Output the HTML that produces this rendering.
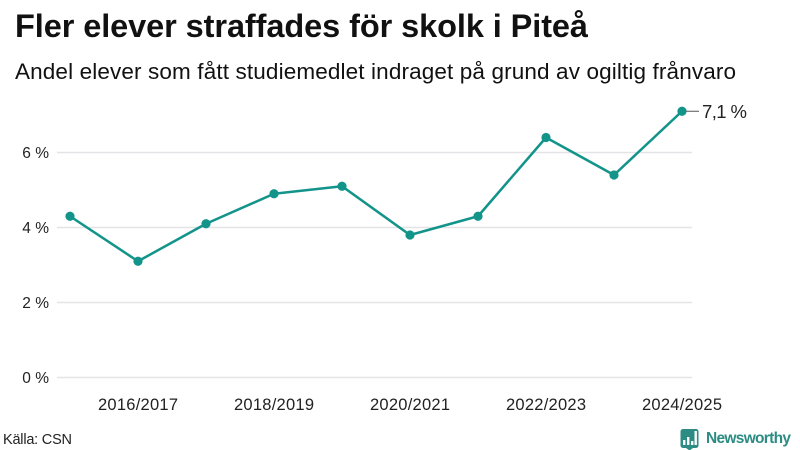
<!DOCTYPE html>
<html lang="sv">
<head>
<meta charset="utf-8">
<title>Fler elever straffades för skolk i Piteå</title>
<style>
html,body{margin:0;padding:0;background:#fff}
svg{display:block}
text{font-family:"Liberation Sans","DejaVu Sans",sans-serif;fill:#222}
</style>
</head>
<body>
<svg id="chart" width="800" height="450" viewBox="0 0 800 450" xmlns="http://www.w3.org/2000/svg">
  <rect width="800" height="450" fill="#fff"/>
  <text x="15" y="37" font-size="32.5" font-weight="700" textLength="573" lengthAdjust="spacing" style="fill:#111">Fler elever straffades för skolk i Piteå</text>
  <text x="15" y="79" font-size="22.5" textLength="721" lengthAdjust="spacing" style="fill:#111">Andel elever som fått studiemedlet indraget på grund av ogiltig frånvaro</text>
  <g id="grid"></g>
  <g id="yaxis"></g>
  <g id="xaxis"></g>
  <g id="series"></g>
  <text x="3" y="444" font-size="14.500" textLength="69" lengthAdjust="spacing">Källa: CSN</text>
  <g>
    <path d="M683 429h13a2.5 2.5 0 0 1 2.500 2.500v14a2.500 2.500 0 0 1-2.500 2.500h-3l-3.500 2.500-3.500-2.500h-3a2.500 2.500 0 0 1-2.500-2.500v-14a2.500 2.500 0 0 1 2.500-2.500z" fill="#2c8c83"/>
    <rect x="683" y="440" width="2.400" height="5" fill="#fff"/>
    <rect x="687" y="437" width="2.400" height="8" fill="#fff"/>
    <rect x="691" y="441" width="2.400" height="4" fill="#fff"/>
    <rect x="694.500" y="431" width="2.400" height="14" fill="#fff"/>
    <text x="706" y="443" font-size="15.500" font-weight="700" textLength="85" lengthAdjust="spacing" style="fill:#2c8c83">Newsworthy</text>
  </g>
</svg>
<script>
const categories = ["2015/2016","2016/2017","2017/2018","2018/2019","2019/2020","2020/2021","2021/2022","2022/2023","2023/2024","2024/2025"];
const seriesValues = [4.3,3.1,4.1,4.9,5.1,3.8,4.3,6.4,5.4,7.1];
const yTicks = [0,2,4,6];
const xTickLabels = ["2016/2017","2018/2019","2020/2021","2022/2023","2024/2025"];
const lastValueLabel = "7,1 %";

const NS = "http://www.w3.org/2000/svg";
const xScale = i => 70 + i * 68;
const yScale = v => 377.5 - v * 37.5;
function mk(tag, parent, attrs, txt){
  const e = document.createElementNS(NS, tag);
  for (const k in attrs) e.setAttribute(k, attrs[k]);
  if (txt !== undefined) e.textContent = txt;
  parent.appendChild(e);
  return e;
}
const grid = document.getElementById("grid");
const yaxis = document.getElementById("yaxis");
const xaxis = document.getElementById("xaxis");
const series = document.getElementById("series");

yTicks.forEach(t => {
  const l = mk("line", grid, {x1:57, x2:692, y1:yScale(t), y2:yScale(t), stroke:"#e3e3e8", "stroke-width":1.6});
  
  
  const tx = mk("text", yaxis, {x:49, y:yScale(t)+5.5, "text-anchor":"end", "font-size":15.5}, t + " %");
  
  
});
xTickLabels.forEach(lbl => {
  const i = categories.indexOf(lbl);
  const tx = mk("text", xaxis, {x:xScale(i), y:410, "text-anchor":"middle", "font-size":16.5, textLength:80, lengthAdjust:"spacing"}, lbl);
  
  
});
const line = mk("polyline", series, {
  points: seriesValues.map((v,i) => xScale(i) + "," + yScale(v)).join(" "),
  fill:"none", stroke:"#12948a", "stroke-width":2.5, "stroke-linejoin":"round"
});


seriesValues.forEach((v,i) => {
  const c = mk("circle", series, {cx:xScale(i), cy:yScale(v), r:4.6, fill:"#12948a"});
  
  
});
const lastI = seriesValues.length - 1;
const lastV = seriesValues[lastI];
const lead = mk("line", series, {x1:xScale(lastI)+4, x2:xScale(lastI)+17, y1:yScale(lastV), y2:yScale(lastV), stroke:"#555", "stroke-width":1});


const lastLabel = mk("text", series, {x:xScale(lastI)+20, y:yScale(lastV)+6.5, "font-size":18.5, textLength:45, lengthAdjust:"spacing"}, lastValueLabel);


</script>
</body>
</html>
